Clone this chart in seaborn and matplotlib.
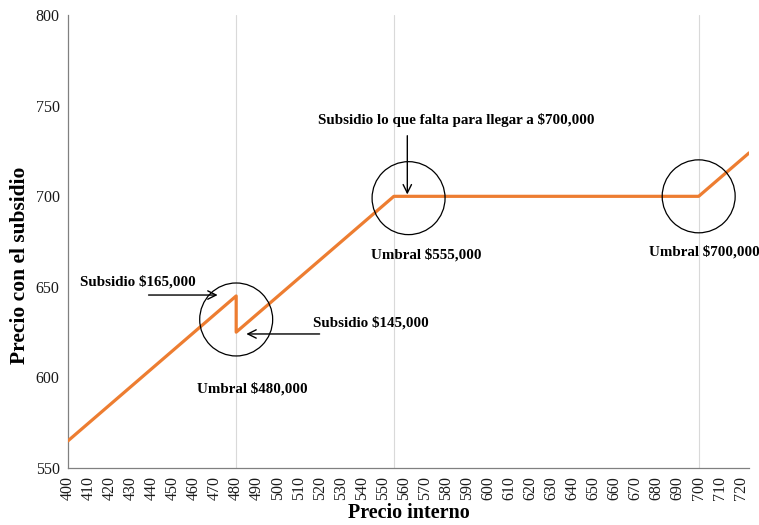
import matplotlib
matplotlib.use("Agg")
import matplotlib.pyplot as plt
import seaborn as sns
import pandas as pd

# precio interno vs precio con el subsidio (miles)
precio_interno = [400, 480, 480, 555, 700, 724]
precio_subsidio = [565, 645, 625, 700, 700, 724]

umbrales = [480, 555, 700]
circulo_x = [480, 562, 700]
circulo_y = [632, 699, 700]

x_ticks = list(range(400, 721, 10))
y_ticks = [550, 600, 650, 700, 750, 800]

sns.set_theme(style="white")
plt.rcParams["font.family"] = ["Liberation Serif", "DejaVu Serif"]
plt.rcParams["text.color"] = "black"
plt.rcParams["axes.labelcolor"] = "black"
plt.rcParams["xtick.color"] = "black"
plt.rcParams["ytick.color"] = "black"

df = pd.DataFrame({"x": precio_interno, "y": precio_subsidio})
circ = pd.DataFrame({"x": circulo_x, "y": circulo_y})

fig = plt.figure(figsize=(7.59, 5.25), dpi=100)
ax = fig.add_axes([0.0896, 0.1086, 0.8974, 0.8624])

for u in umbrales:
    ax.axvline(u, color="#d9d9d9", lw=0.8, zorder=0)

sns.lineplot(data=df, x="x", y="y", estimator=None, sort=False,
             color="#ED7D31", lw=2.3, ax=ax, zorder=3)
sns.scatterplot(data=circ, x="x", y="y", s=2760, facecolors="none",
                edgecolor="black", linewidth=0.9, ax=ax, zorder=4)

ax.set_xlim(400, 724)
ax.set_ylim(550, 800)
ax.set_xticks(x_ticks)
ax.set_xticklabels([str(t) for t in x_ticks], rotation=90, fontsize=11.5)
ax.set_yticks(y_ticks)
ax.set_yticklabels([str(t) for t in y_ticks], fontsize=11.5)
ax.tick_params(length=0, pad=6, labelcolor="#1a1a1a")

for s in ["top", "right"]:
    ax.spines[s].set_visible(False)
for s in ["left", "bottom"]:
    ax.spines[s].set_color("#808080")
    ax.spines[s].set_linewidth(0.9)

ax.set_xlabel("Precio interno", fontsize=14.5, fontweight="bold")
ax.set_ylabel("Precio con el subsidio", fontsize=15.5, fontweight="bold")
ax.xaxis.set_label_coords(0.5, -0.077)
ax.yaxis.set_label_coords(-0.0705, 0.448)
ax.yaxis.label.set_verticalalignment("center")

txt = dict(fontsize=10.8, fontweight="bold", color="black")
arrow = dict(arrowstyle="->", color="black", lw=1.0, mutation_scale=15)

ax.annotate("", xy=(472.5, 645.5), xytext=(437, 645.5), arrowprops=arrow, zorder=5)
ax.text(405.5, 653, "Subsidio $165,000", ha="left", va="center", **txt)

ax.annotate("", xy=(483.5, 624), xytext=(521, 624), arrowprops=arrow, zorder=5)
ax.text(516.5, 630, "Subsidio $145,000", ha="left", va="center", **txt)

ax.text(487.5, 594, "Umbral $480,000", ha="center", va="center", **txt)

ax.annotate("", xy=(561.4, 699.5), xytext=(561.4, 735), arrowprops=arrow, zorder=5)
ax.text(584.5, 742.4, "Subsidio lo que falta para llegar a $700,000",
        ha="center", va="center", **txt)

ax.text(570.5, 668, "Umbral $555,000", ha="center", va="center", **txt)
ax.text(702.6, 669.4, "Umbral $700,000", ha="center", va="center",
        clip_on=False, **txt)

fig.savefig("out.png", dpi=100)
